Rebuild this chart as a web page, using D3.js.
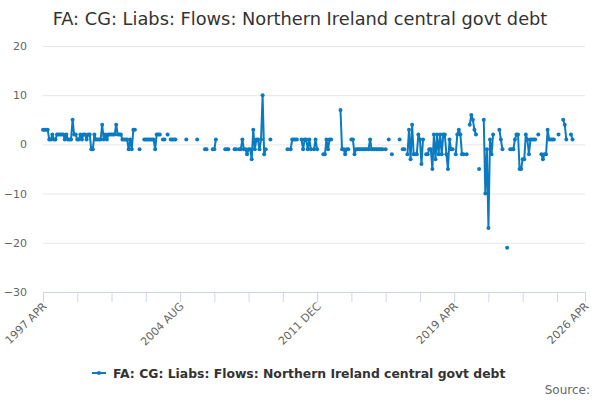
<!DOCTYPE html>
<html><head><meta charset="utf-8">
<script src="https://cdn.jsdelivr.net/npm/d3@7"></script>
<style>body{margin:0;background:#fff}svg{display:block}</style>
</head><body><svg id="c" width="600" height="400"></svg>
<script>
(function(){
// ---- data ----
const title = "FA: CG: Liabs: Flows: Northern Ireland central govt debt";
const seriesName = "FA: CG: Liabs: Flows: Northern Ireland central govt debt";
const startYear = 1997, startMonth = 3; // April (0-based)
const monthNames = ["JAN","FEB","MAR","APR","MAY","JUN","JUL","AUG","SEP","OCT","NOV","DEC"];
// monthly values from 1997 APR (one row = 12 months, Apr..Mar)
const values = [
  3,3,3,3,1,1,2,1,1,2,2,2,
  2,2,1,2,1,1,1,5,2,2,1,1,
  2,1,2,2,1,2,2,-1,-1,2,1,1,
  1,1,4,1,2,1,2,2,2,2,2,4,
  2,2,2,1,1,1,1,-1,1,-1,3,3,
  null,null,-1,null,null,1,1,1,1,1,1,1,
  -1,2,2,2,null,1,1,null,2,null,1,1,
  1,1,null,null,null,null,null,null,1,null,null,null,
  null,null,null,1,null,null,null,null,-1,-1,null,null,
  null,-1,-1,1,null,null,null,null,null,-1,-1,-1,
  null,null,null,-1,-1,null,-1,-1,1,-1,-1,-2,
  -1,-1,-3,3,-1,1,1,-1,1,10,-2,-1,
  null,null,1,null,null,null,null,null,null,null,null,null,
  null,-1,null,-1,1,1,1,1,null,null,1,-1,
  1,1,-1,1,-1,null,-1,1,-1,null,null,null,
  -2,-2,1,-1,1,1,null,null,null,null,null,7,
  -1,-1,-2,-1,-1,null,1,1,-2,-1,-1,-1,
  -1,-1,-1,-1,-1,-1,1,-1,-1,-1,-1,-1,
  -1,-1,-1,null,-1,null,1,null,-2,null,null,null,
  null,1,null,-1,-1,null,-2,3,-3,4,-2,-2,
  -2,2,1,-4,1,null,-2,-2,-1,-1,-5,2,
  -3,2,-2,2,-2,2,2,-2,-5,1,-1,-1,
  null,-2,2,3,2,-2,-2,null,-2,null,4,6,
  5,3,2,null,-5,null,null,5,-10,-1,-17,1,
  -2,2,null,null,null,3,1,-1,null,null,-21,null,
  -1,-1,-1,1,2,2,-5,-5,-3,-3,2,1,
  -2,1,1,1,1,null,2,null,-2,-3,-2,-2,
  3,1,1,1,1,null,null,2,null,null,5,4,
  1,null,null,2,1,null,null,null,null,null,null,null,
  null
];
const yTicks = [20, 10, 0, -10, -20, -30];
const xTickStep = 22;        // months between tick marks
const xLabelStep = 88;       // months between labels

// category labels
const categories = values.map((v, i) => {
  const m = startMonth + i;
  return (startYear + Math.floor(m / 12)) + " " + monthNames[m % 12];
});
const data = values.map((v, i) => ({i, v}));

// ---- layout ----
const svg = d3.select("#c");
const pL = 43, pR = 585, pT = 46, pB = 292;
const color = "#0b7bc1";

const x = d3.scaleLinear().domain([0, values.length - 1]).range([pL, pR]);
const y = d3.scaleLinear().domain([-30, 20]).range([pB, pT]);

// title
svg.append("text").attr("x", 300).attr("y", 25).attr("text-anchor", "middle")
  .attr("font-family", "DejaVu Sans, sans-serif").attr("font-size", 17.8)
  .attr("fill", "#333").text(title);

// grid + y labels
const yAxis = d3.axisLeft(y).tickValues(yTicks).tickSize(-(pR - pL)).tickPadding(16);
const gy = svg.append("g").attr("transform", `translate(${pL},0)`).call(yAxis);
gy.select(".domain").remove();
gy.selectAll(".tick line").attr("stroke", "#e6e6e6").filter(d => d === -30).remove();
gy.selectAll(".tick text").attr("fill", "#666").attr("font-size", 11)
  .attr("font-family", "DejaVu Sans, sans-serif");

// x axis
const tickVals = d3.range(0, values.length, xTickStep).concat([values.length - 1]);
const labelVals = d3.range(0, values.length, xLabelStep).filter(v => v < values.length - 20).concat([values.length - 1]);
const xAxis = d3.axisBottom(x).tickValues(tickVals).tickSize(10).tickFormat(d => labelVals.includes(d) ? categories[d] : "");
const gx = svg.append("g").attr("transform", `translate(0,${pB})`).call(xAxis);
gx.select(".domain").attr("stroke", "#ccd6eb").attr("d", `M${pL},0.5H${pR}`);
gx.selectAll(".tick line").attr("stroke", "#ccd6eb");
gx.selectAll(".tick text").attr("fill", "#666").attr("font-size", 11)
  .attr("font-family", "DejaVu Sans, sans-serif")
  .attr("text-anchor", "end").attr("dy", null).attr("y", 0)
  .attr("transform", "translate(4,15) rotate(-45)");

// line + markers
const line = d3.line().defined(d => d.v !== null).x(d => x(d.i)).y(d => y(d.v));
svg.append("path").datum(data).attr("d", line).attr("fill", "none")
  .attr("stroke", color).attr("stroke-width", 2).attr("stroke-linejoin", "round");
svg.append("g").selectAll("circle").data(data.filter(d => d.v !== null)).join("circle")
  .attr("cx", d => x(d.i)).attr("cy", d => y(d.v)).attr("r", 2).attr("fill", color);

// legend
const lg = svg.append("g").attr("transform", "translate(92,373)");
lg.append("line").attr("x1", 0).attr("x2", 14).attr("y1", 0).attr("y2", 0).attr("stroke", color).attr("stroke-width", 2);
lg.append("circle").attr("cx", 7).attr("cy", 0).attr("r", 2).attr("fill", color);
lg.append("text").attr("x", 21).attr("y", 5).attr("font-family", "DejaVu Sans, sans-serif")
  .attr("font-size", 12.4).attr("font-weight", "bold").attr("fill", "#333").text(seriesName);

// source
svg.append("text").attr("x", 590).attr("y", 394).attr("text-anchor", "end")
  .attr("font-family", "DejaVu Sans, sans-serif").attr("font-size", 12).attr("fill", "#666").text("Source:");
})();
</script></body></html>
